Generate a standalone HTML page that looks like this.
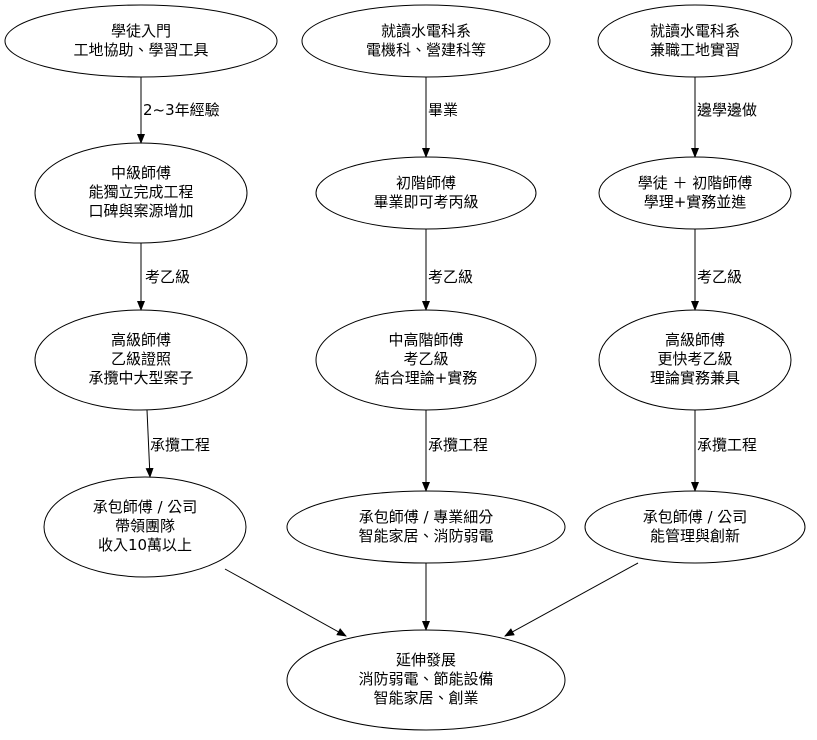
<!DOCTYPE html>
<html><head><meta charset="utf-8"><style>
body{margin:0;background:#fff}
svg text{font-family:"DejaVu Sans","Noto Sans CJK TC",sans-serif;font-size:15px;fill:#000}
</style></head><body>
<svg width="817" height="735" viewBox="0 0 817 735" xmlns="http://www.w3.org/2000/svg">
<defs><marker id="a" markerWidth="10" markerHeight="8" refX="9" refY="4" orient="auto" markerUnits="userSpaceOnUse"><path d="M0,0 L10,4 L0,8z" fill="#000"/></marker></defs>
<g fill="none" stroke="#000" stroke-width="1">
<ellipse cx="141" cy="41" rx="136" ry="36"/>
<ellipse cx="426" cy="41" rx="124" ry="36"/>
<ellipse cx="695" cy="41" rx="97" ry="36"/>
<ellipse cx="141" cy="193" rx="106" ry="50"/>
<ellipse cx="426" cy="193" rx="110" ry="36"/>
<ellipse cx="695" cy="193" rx="96" ry="36"/>
<ellipse cx="141" cy="360" rx="106" ry="50"/>
<ellipse cx="426" cy="360" rx="110" ry="50"/>
<ellipse cx="695" cy="360" rx="96" ry="50"/>
<ellipse cx="145" cy="527" rx="101" ry="50"/>
<ellipse cx="426" cy="527" rx="139" ry="36"/>
<ellipse cx="695" cy="527" rx="110" ry="36"/>
<ellipse cx="426" cy="680" rx="139" ry="50"/>
<g marker-end="url(#a)">
<line x1="141" y1="77" x2="141" y2="143"/>
<line x1="426" y1="77" x2="426" y2="157"/>
<line x1="695" y1="77" x2="695" y2="157"/>
<line x1="141" y1="243" x2="141" y2="310"/>
<line x1="426" y1="229" x2="426" y2="310"/>
<line x1="695" y1="229" x2="695" y2="310"/>
<line x1="147" y1="410" x2="150" y2="477"/>
<line x1="426" y1="410" x2="426" y2="491"/>
<line x1="695" y1="410" x2="695" y2="491"/>
<line x1="225" y1="569" x2="346" y2="636"/>
<line x1="426" y1="563" x2="426" y2="630"/>
<line x1="638" y1="563" x2="505" y2="636"/>
</g></g>
<g text-anchor="middle">
<text x="141" y="36">學徒入門</text><text x="141" y="55">工地協助、學習工具</text>
<text x="426" y="36">就讀水電科系</text><text x="426" y="55">電機科、營建科等</text>
<text x="695" y="36">就讀水電科系</text><text x="695" y="55">兼職工地實習</text>
<text x="141" y="178">中級師傅</text><text x="141" y="197">能獨立完成工程</text><text x="141" y="216">口碑與案源增加</text>
<text x="426" y="188">初階師傅</text><text x="426" y="207">畢業即可考丙級</text>
<text x="695" y="188">學徒 ＋ 初階師傅</text><text x="695" y="207">學理+實務並進</text>
<text x="141" y="345">高級師傅</text><text x="141" y="364">乙級證照</text><text x="141" y="383">承攬中大型案子</text>
<text x="426" y="345">中高階師傅</text><text x="426" y="364">考乙級</text><text x="426" y="383">結合理論+實務</text>
<text x="695" y="345">高級師傅</text><text x="695" y="364">更快考乙級</text><text x="695" y="383">理論實務兼具</text>
<text x="145" y="512">承包師傅 / 公司</text><text x="145" y="531">帶領團隊</text><text x="145" y="550">收入10萬以上</text>
<text x="426" y="522">承包師傅 / 專業細分</text><text x="426" y="541">智能家居、消防弱電</text>
<text x="695" y="522">承包師傅 / 公司</text><text x="695" y="541">能管理與創新</text>
<text x="426" y="665">延伸發展</text><text x="426" y="684">消防弱電、節能設備</text><text x="426" y="703">智能家居、創業</text>
</g>
<g>
<text x="143" y="115">2~3年經驗</text>
<text x="428" y="115">畢業</text>
<text x="697" y="115">邊學邊做</text>
<text x="145" y="282">考乙級</text>
<text x="428" y="282">考乙級</text>
<text x="697" y="282">考乙級</text>
<text x="150" y="450">承攬工程</text>
<text x="428" y="450">承攬工程</text>
<text x="697" y="450">承攬工程</text>
</g>
</svg>
</body></html>
